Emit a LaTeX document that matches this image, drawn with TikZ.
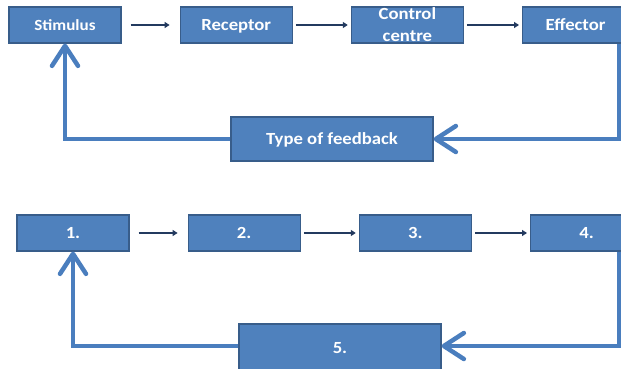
\documentclass[tikz,border=0pt]{standalone}
\usepackage{fontspec}
\usetikzlibrary{arrows.meta,positioning}
\newfontfamily\boxfont[FakeStretch=1.1]{Carlito}
\definecolor{boxblue}{RGB}{79,129,189}
\definecolor{boxedge}{RGB}{56,93,138}
\definecolor{navy}{RGB}{35,58,95}
\definecolor{loopblue}{RGB}{74,126,190}

\begin{document}
\begin{tikzpicture}[x=1pt, y=-1pt,
  every node/.style={font=\boxfont\bfseries\fontsize{17}{22}\selectfont, text=white},
  stage/.style={draw=boxedge, fill=boxblue, line width=1.2pt, minimum width=112pt, minimum height=36pt, inner sep=0pt, text height=11pt, text depth=0pt},
  fbbox/.style={stage, minimum width=202pt, minimum height=44pt},
  arr/.style={-{Triangle[length=5pt,width=6pt]}, draw=navy, line width=2.4pt, shorten <=3pt, shorten >=3pt},
  fb/.style={-{Straight Barb[length=20pt,width=26pt,round]}, draw=loopblue, line width=4.5pt}]
\useasboundingbox (0,0) rectangle (621,369);
\clip (0,0) rectangle (621,369);
\fill[white] (0,0) rectangle (621,369);

% top loop
\node[stage, font=\boxfont\bfseries\fontsize{15.5}{18}\selectfont] (stim) at (65,25) {Stimulus};
\node[stage, right=58pt of stim] (rec) {Receptor};
\node[stage, right=58pt of rec] (ctrl) {\smash{\begin{tabular}{@{}c@{}}Control\\centre\end{tabular}}};
\node[stage, right=58pt of ctrl] (eff) {\hspace*{-6pt}Effector};
\node[fbbox] (fbk) at (332,139) {Type of feedback};
\coordinate (rt) at (619,139);
\draw[arr, shorten <=9pt, shorten >=10pt] (stim) -- (rec);
\draw[arr] (rec) -- (ctrl);
\draw[arr] (ctrl) -- (eff);
\draw[fb] (eff.south -| rt) |- (fbk.east);
\draw[fb] (fbk.west) -| (stim.south);

% bottom loop
\node[stage] (s1) at (73,233) {1.};
\node[stage, right=58pt of s1] (s2) {2.};
\node[stage, right=58pt of s2] (s3) {3.};
\node[stage, right=58pt of s3] (s4) {4.};
\node[fbbox, minimum height=48pt] (s5) at (340,348) {5.};
\coordinate (rb) at (619,346);
\draw[arr, shorten <=9pt, shorten >=10pt] (s1) -- (s2);
\draw[arr] (s2) -- (s3);
\draw[arr] (s3) -- (s4);
\draw[fb] (s4.south -| rb) |- (s5.east |- rb);
\draw[fb] (s5.west |- rb) -| (s1.south);
\end{tikzpicture}
\end{document}
